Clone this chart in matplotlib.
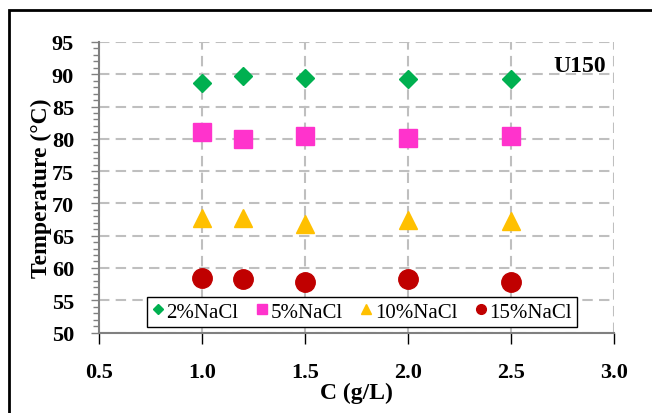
import numpy as np
import matplotlib
matplotlib.use("Agg")
import matplotlib.pyplot as plt
from matplotlib.patches import Rectangle
from matplotlib.ticker import MultipleLocator

plt.rcParams['font.family'] = ['Liberation Serif', 'DejaVu Serif']

# Data
conc = [1.0, 1.2, 1.5, 2.0, 2.5]
t_2 = [88.6, 89.7, 89.4, 89.2, 89.3]
t_5 = [81.0, 80.0, 80.5, 80.1, 80.5]
t_10 = [67.7, 67.7, 66.8, 67.5, 67.3]
t_15 = [58.5, 58.3, 57.9, 58.3, 57.9]
labels = ['2%NaCl', '5%NaCl', '10%NaCl', '15%NaCl']

fig = plt.figure(figsize=(6.52, 4.14), dpi=100)
ax = fig.add_axes([99/652, 1-333.5/414, 515/652, 290.5/414])

# outer frame (cut off at right/bottom as in the picture)
fig.patches.append(Rectangle((9/652, -0.1), 1.2, 1 - 11/414 + 0.1,
                             transform=fig.transFigure, fill=False,
                             edgecolor='black', linewidth=2))

ax.plot(conc, t_2, 'D', color='#00B050', ms=9.5, mec='#00B050', label=labels[0], zorder=3)
ax.plot(conc, t_5, 's', color='#FF33CC', ms=13.5, mec='#FF33CC', label=labels[1], zorder=3)
ax.plot(conc, t_10, '^', color='#FFC000', ms=13.5, mec='#FFC000', label=labels[2], zorder=3)
ax.plot(conc, t_15, 'o', color='#C00000', ms=14, mec='#C00000', label=labels[3], zorder=3)

ax.set_xlim(0.5, 3.0)
ax.set_ylim(50, 95)
ax.yaxis.set_major_locator(MultipleLocator(5))
ax.yaxis.set_minor_locator(MultipleLocator(1))
ax.set_xticks(np.arange(0.5, 3.01, 0.5))
ax.set_xticklabels(['%.1f' % v for v in np.arange(0.5, 3.01, 0.5)])

ax.grid(True, which='major', color='#BFBFBF', linestyle=(0, (5, 3)), linewidth=1.5, zorder=0)
ax.set_axisbelow(True)

for s in ['top', 'right']:
    ax.spines[s].set_visible(False)
for s in ['left', 'bottom']:
    ax.spines[s].set_color('#808080')
    ax.spines[s].set_linewidth(1.5)

ax.tick_params(axis='y', which='major', direction='out', length=6, width=1, color='#808080',
               labelsize=16, pad=12)
ax.tick_params(axis='y', which='minor', direction='out', length=4, width=1, color='#808080')
ax.tick_params(axis='x', which='major', direction='out', length=8, width=1, color='black',
               labelsize=16, pad=13)
for lab in ax.get_xticklabels() + ax.get_yticklabels():
    lab.set_fontweight('bold')

ax.set_xlabel('C (g/L)', fontsize=17, fontweight='bold', labelpad=0)
ax.set_ylabel('Temperature (\u00b0C)', fontsize=17, fontweight='bold', labelpad=0)

ax.text(0.985, 0.92, 'U150', transform=ax.transAxes, ha='right', va='center',
        fontsize=17, fontweight='bold')

leg = ax.legend(loc='lower center', bbox_to_anchor=(0.511, 0.019), ncol=4,
                fontsize=15, frameon=True, fancybox=False, borderaxespad=0,
                markerscale=0.5, handlelength=0.5, handletextpad=0.15,
                columnspacing=0.9, borderpad=0.25)
leg.get_frame().set_edgecolor('black')
leg.get_frame().set_linewidth(1)
leg.get_frame().set_facecolor('white')
leg.get_frame().set_alpha(1)

fig.savefig('out.png', dpi=100)
